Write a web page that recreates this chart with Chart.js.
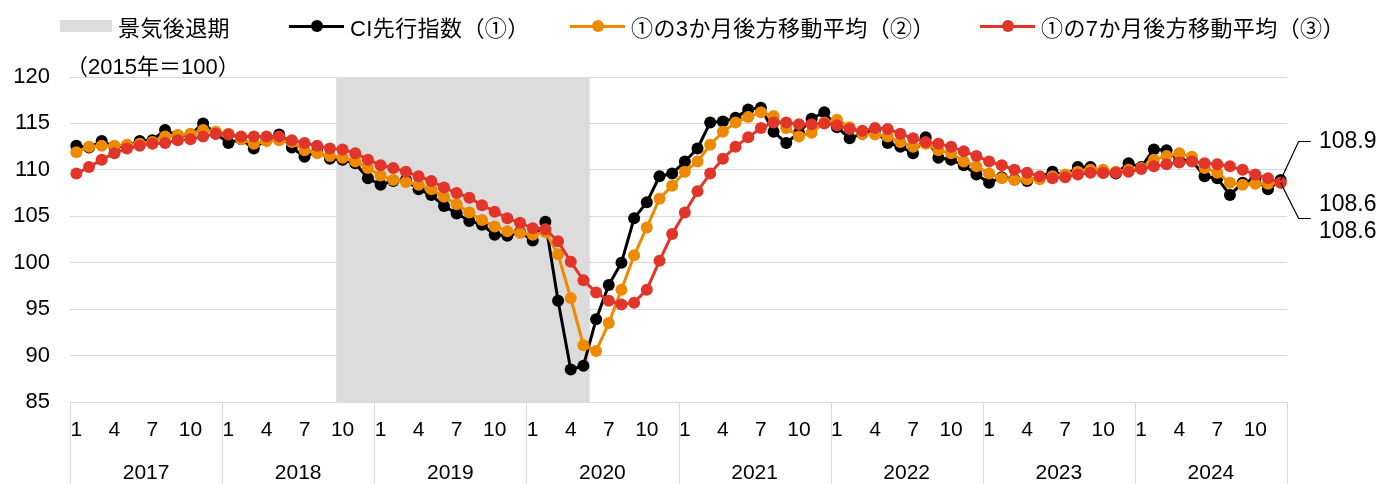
<!DOCTYPE html>
<html lang="ja">
<head>
    <meta charset="UTF-8">
    <title>CI先行指数</title>
    <script src="https://cdn.jsdelivr.net/npm/chart.js"></script>
    <style>
        body {
            margin: 0;
            background: #fff;
            font-family: "Liberation Sans", "Noto Sans CJK JP", sans-serif;
            color: #000;
        }

        .wrap {
            position: relative;
            width: 1381px;
            height: 484px;
        }

        #ciChart {
            position: absolute;
            left: 0;
            top: 0;
        }

        /* Legend */
        .legend-item {
            position: absolute;
            top: 13px;
            height: 26px;
            display: flex;
            align-items: center;
            font-size: 22px;
            letter-spacing: 0.4px;
            white-space: nowrap;
        }

        .swatch-box {
            width: 52px;
            height: 12px;
            background: #dcdcdc;
            margin-right: 6px;
        }

        .swatch-line {
            position: relative;
            width: 55px;
            height: 3px;
            margin-right: 6px;
        }

        .swatch-line::after {
            content: '';
            position: absolute;
            left: 50%;
            top: 50%;
            width: 12px;
            height: 12px;
            border-radius: 50%;
            background: inherit;
            transform: translate(-50%, -50%);
        }

        .unit {
            position: absolute;
            left: 66px;
            top: 48px;
            font-size: 22px;
        }
    </style>
</head>

<body>

<div class="wrap">
    <canvas id="ciChart" width="1381" height="484"></canvas>

    <div class="legend-item" style="left:60px"><span class="swatch-box"></span>景気後退期</div>
    <div class="legend-item" style="left:289px"><span class="swatch-line" style="background:#000"></span>CI先行指数（①）</div>
    <div class="legend-item" style="left:570px"><span class="swatch-line" style="background:#ee8a00"></span>①の3か月後方移動平均（②）</div>
    <div class="legend-item" style="left:980px"><span class="swatch-line" style="background:#e2352a"></span>①の7か月後方移動平均（③）</div>
    <div class="unit">（2015年＝100）</div>
</div>

<script>
    // Categories
    const years = ['2017', '2018', '2019', '2020', '2021', '2022', '2023', '2024'];
    const months = ['1', '2', '3', '4', '5', '6', '7', '8', '9', '10', '11', '12'];
    const shownMonths = ['1', '4', '7', '10'];

    // Recession shading (first and last month)
    const recessionStart = '2018/10';
    const recessionEnd = '2020/5';

    // CI leading index (1)
    const ciIndex = [
        112.6, 112.4, 113.1, 112.5, 112.6, 113.1, 113.2, 114.3, 113.7, 113.8, 115.0, 113.9,
        112.9, 113.3, 112.3, 113.3, 113.8, 112.4, 111.4, 112.0, 111.2, 111.1, 110.7, 109.1,
        108.4, 108.8, 108.9, 107.9, 107.3, 106.1, 105.3, 104.5, 104.1, 103.0, 102.9, 103.3,
        102.4, 104.4, 95.9, 88.5, 88.9, 93.9, 97.6, 100.0, 104.8, 106.5, 109.3, 109.6,
        110.9, 112.3, 115.1, 115.2, 115.6, 116.5, 116.7, 114.1, 112.9, 114.0, 115.5, 116.2,
        114.6, 113.4, 113.9, 114.3, 112.9, 112.5, 111.8, 113.5, 111.3, 111.1, 110.5, 109.5,
        108.6, 109.2, 109.0, 108.8, 109.2, 109.8, 109.4, 110.3, 110.3, 109.7, 109.6, 110.7,
        110.3, 112.2, 112.1, 111.0, 111.0, 109.3, 109.1, 107.3, 108.6, 109.0, 107.9, 108.9
    ];

    // 3-month trailing average (2)
    const ma3 = [
        111.9, 112.5, 112.6, 112.6, 112.7, 112.8, 113.0, 113.6, 113.75, 113.9, 114.3, 114.1,
        113.9, 113.3, 112.8, 113.1, 113.2, 113.0, 112.1, 111.8, 111.5, 111.3, 110.9, 110.2,
        109.4, 108.9, 108.7, 108.4, 107.9, 107.1, 106.3, 105.4, 104.6, 103.9, 103.4, 103.2,
        103.0, 103.3, 100.9, 96.2, 91.1, 90.5, 93.5, 97.1, 100.8, 103.8, 106.9, 108.3,
        109.8, 110.9, 112.7, 114.1, 115.1, 115.7, 116.2, 115.8, 114.5, 113.6, 114.0, 115.1,
        115.4, 114.6, 113.9, 113.8, 113.6, 113.0, 112.5, 112.8, 112.1, 111.8, 110.9, 110.4,
        109.6, 109.1, 108.9, 109.0, 109.0, 109.3, 109.5, 109.8, 110.0, 110.0, 109.8, 110.0,
        110.2, 111.1, 111.5, 111.8, 111.4, 110.2, 109.7, 108.6, 108.4, 108.5, 108.5, 108.6
    ];

    // 7-month trailing average (3)
    const ma7 = [
        109.6, 110.3, 111.1, 111.8, 112.3, 112.6, 112.8, 112.9, 113.2, 113.3, 113.6, 113.9,
        113.8, 113.6, 113.6, 113.6, 113.6, 113.2, 112.9, 112.6, 112.3, 112.2, 111.8, 111.1,
        110.5, 110.2, 109.8, 109.3, 108.8, 108.1, 107.5, 107.0, 106.2, 105.5, 104.8, 104.3,
        103.7, 103.6, 102.3, 100.1, 98.1, 96.8, 95.9, 95.5, 95.7, 97.1, 100.2, 103.1,
        105.4, 107.7, 109.6, 111.2, 112.5, 113.5, 114.5, 115.1, 115.1, 114.9, 114.9, 115.0,
        114.8, 114.4, 114.2, 114.5, 114.4, 113.9, 113.4, 113.0, 112.8, 112.5, 112.0, 111.5,
        110.9, 110.5, 110.0, 109.7, 109.3, 109.1, 109.2, 109.5, 109.7, 109.7, 109.7, 109.8,
        110.1, 110.4, 110.6, 110.8, 110.9, 110.7, 110.6, 110.4, 110.0, 109.5, 109.1, 108.6
    ];

    const categories = [];
    years.forEach(y => months.forEach(m => categories.push(y + '/' + m)));

    const FONT = '"Liberation Sans", "Noto Sans CJK JP", sans-serif';
    const GRID = '#d9d9d9';

    // shaded recession band, drawn over the grid but under the lines
    const recessionBand = {
        id: 'recessionBand',
        beforeDatasetsDraw(chart) {
            const x = chart.scales.x;
            const area = chart.chartArea;
            const half = (x.getPixelForValue(1) - x.getPixelForValue(0)) / 2;
            const x0 = x.getPixelForValue(categories.indexOf(recessionStart)) - half;
            const x1 = x.getPixelForValue(categories.indexOf(recessionEnd)) + half;
            const ctx = chart.ctx;
            ctx.save();
            ctx.fillStyle = '#dcdcdc';
            ctx.fillRect(x0, area.top, x1 - x0, area.bottom - area.top);
            ctx.restore();
        }
    };

    // year row and separators under the month ticks
    const yearAxis = {
        id: 'yearAxis',
        afterDraw(chart) {
            const x = chart.scales.x;
            const area = chart.chartArea;
            const ctx = chart.ctx;
            const half = (x.getPixelForValue(1) - x.getPixelForValue(0)) / 2;
            ctx.save();
            ctx.strokeStyle = GRID;
            ctx.lineWidth = 1;
            ctx.fillStyle = '#000';
            ctx.font = '21px ' + FONT;
            ctx.textAlign = 'center';
            ctx.textBaseline = 'middle';
            years.forEach((y, i) => {
                const first = x.getPixelForValue(i * 12);
                const last = x.getPixelForValue(i * 12 + 11);
                const left = Math.round(first - half) + 0.5;
                ctx.beginPath();
                ctx.moveTo(left, area.bottom);
                ctx.lineTo(left, chart.height);
                ctx.stroke();
                ctx.fillText(y, (first + last) / 2, 473);
            });
            const right = Math.round(x.getPixelForValue(categories.length - 1) + half) + 0.5;
            ctx.beginPath();
            ctx.moveTo(right, area.bottom);
            ctx.lineTo(right, chart.height);
            ctx.stroke();
            ctx.restore();
        }
    };

    // last-value labels on the right
    const endLabels = {
        id: 'endLabels',
        afterDatasetsDraw(chart) {
            const x = chart.scales.x;
            const y = chart.scales.y;
            const n = categories.length - 1;
            const px = x.getPixelForValue(n);
            const ctx = chart.ctx;
            const items = [
                { v: ciIndex[n], labelY: 142, elbowY: 141.5 },
                { v: ma3[n], labelY: 205, elbowY: 218.5 },
                { v: ma7[n], labelY: 232, elbowY: null }
            ];
            ctx.save();
            ctx.strokeStyle = '#000';
            ctx.lineWidth = 1.2;
            ctx.fillStyle = '#000';
            ctx.font = '23px ' + FONT;
            ctx.textAlign = 'left';
            ctx.textBaseline = 'middle';
            items.forEach(it => {
                if (it.elbowY !== null) {
                    ctx.beginPath();
                    ctx.moveTo(px, y.getPixelForValue(it.v));
                    ctx.lineTo(px + 18, it.elbowY);
                    ctx.lineTo(px + 30, it.elbowY);
                    ctx.stroke();
                }
                ctx.fillText(it.v.toFixed(1), 1319, it.labelY);
            });
            ctx.restore();
        }
    };

    function lineSet(label, data, color, order) {
        return {
            label: label,
            data: data,
            borderColor: color,
            backgroundColor: color,
            borderWidth: 3,
            pointRadius: 6,
            pointBorderWidth: 0,
            pointBackgroundColor: color,
            tension: 0,
            order: order
        };
    }

    const ctx = document.getElementById('ciChart').getContext('2d');
    const ciChart = new Chart(ctx, {
        type: 'line',
        data: {
            labels: categories,
            datasets: [
                lineSet('CI先行指数（①）', ciIndex, '#000000', 3),
                lineSet('①の3か月後方移動平均（②）', ma3, '#ee8a00', 2),
                lineSet('①の7か月後方移動平均（③）', ma7, '#e2352a', 1)
            ]
        },
        options: {
            responsive: false,
            animation: false,
            devicePixelRatio: 1,
            layout: { padding: { top: 77, right: 94, bottom: 0, left: 0 } },
            plugins: {
                legend: { display: false },
                tooltip: { enabled: false }
            },
            scales: {
                x: {
                    offset: true,
                    grid: { display: false, drawTicks: false },
                    border: { display: false },
                    ticks: {
                        autoSkip: false,
                        maxRotation: 0,
                        padding: 16,
                        color: '#000',
                        font: { family: FONT, size: 21 },
                        callback: function (value, index) {
                            const m = months[index % 12];
                            return shownMonths.includes(m) ? m : '';
                        }
                    },
                    afterFit: s => { s.height = 82; }
                },
                y: {
                    min: 85,
                    max: 120,
                    grid: { color: GRID, lineWidth: 1, drawTicks: false },
                    border: { display: false },
                    ticks: {
                        stepSize: 5,
                        padding: 20,
                        color: '#000',
                        font: { family: FONT, size: 22 }
                    },
                    afterFit: s => { s.width = 70; }
                }
            }
        },
        plugins: [recessionBand, yearAxis, endLabels]
    });
</script>
</body>
</html>
